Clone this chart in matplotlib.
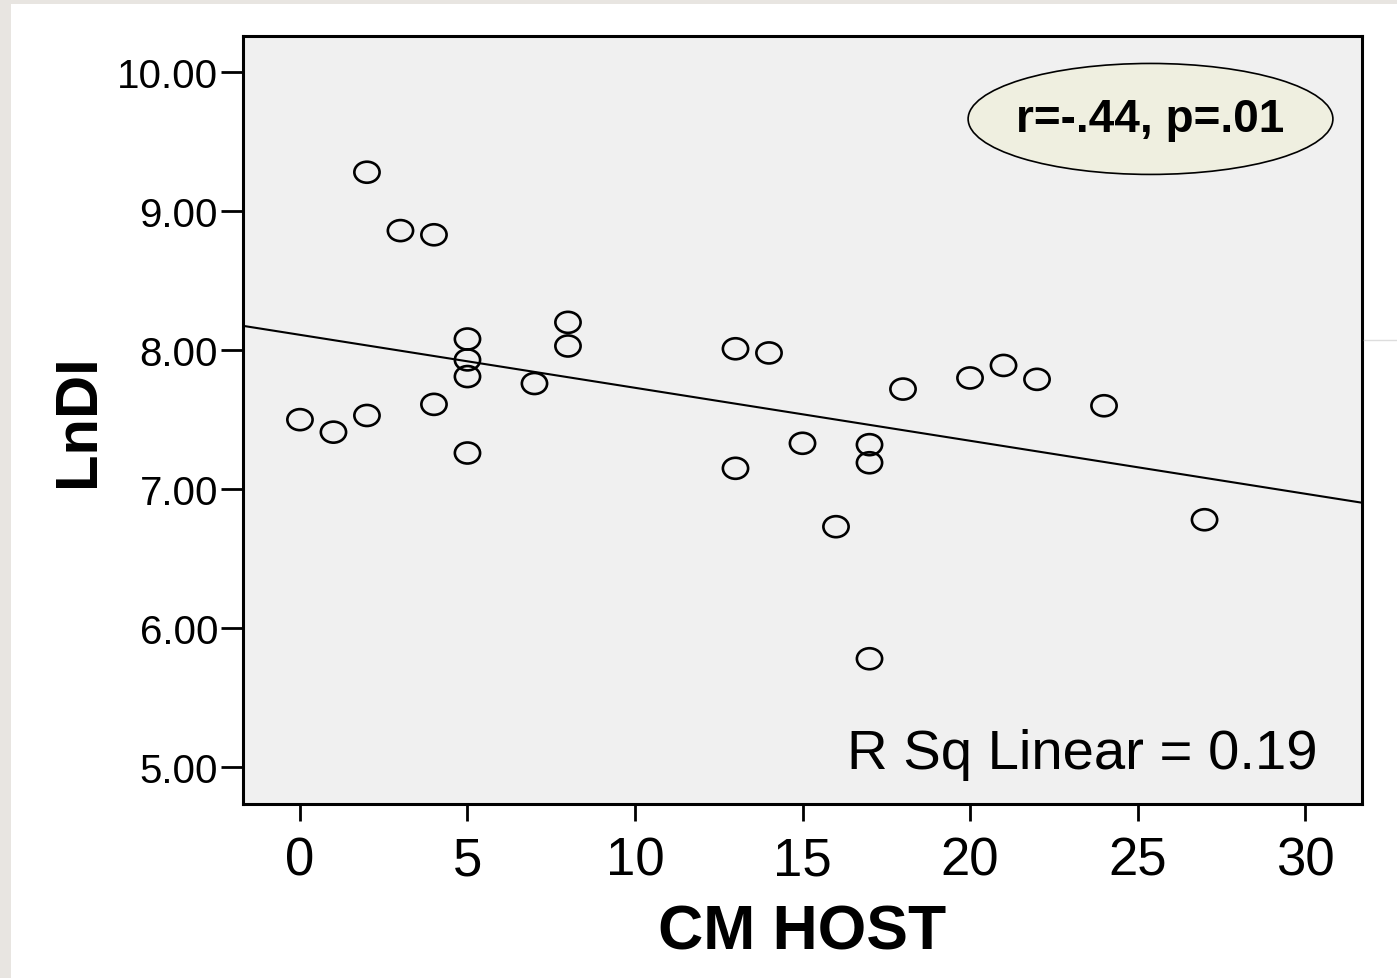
import matplotlib
matplotlib.use("Agg")
import matplotlib.pyplot as plt
from matplotlib.patches import Ellipse, Rectangle
from matplotlib.path import Path
from matplotlib.transforms import Affine2D
import numpy as np

plt.rcParams['font.family'] = ['Liberation Sans', 'DejaVu Sans']

cm_host = np.array([0, 1, 2, 2, 3, 4, 4, 5, 5, 5, 5, 7, 8, 8, 13, 13, 14, 15, 16,
                    17, 17, 17, 18, 20, 21, 22, 24, 27])
lndi = np.array([7.50, 7.41, 7.53, 9.28, 8.86, 8.83, 7.61, 8.08, 7.93, 7.81, 7.26,
                 7.76, 8.20, 8.03, 8.01, 7.15, 7.98, 7.33, 6.73, 7.32, 7.19, 5.78,
                 7.72, 7.80, 7.89, 7.79, 7.60, 6.78])
x_ticks = [0, 5, 10, 15, 20, 25, 30]
y_ticks = [5.0, 6.0, 7.0, 8.0, 9.0, 10.0]
r_sq = 0.19
stats_text = "r=-.44, p=.01"

fig = plt.figure(figsize=(13.97, 9.79), dpi=100, facecolor='#e8e5e1')
fig.patches.append(Rectangle((11 / 1397, 0), 1, 1 - 5 / 979, transform=fig.transFigure,
                             facecolor='white', edgecolor='none', zorder=-10))
fig.lines.append(plt.Line2D([1364 / 1397, 1], [1 - 341 / 979] * 2, transform=fig.transFigure,
                            color='#dddddd', lw=1))

ax = fig.add_axes([243 / 1397, 1 - 805 / 979, 1119 / 1397, 768 / 979])
ax.set_facecolor('#f0f0f0')

# slightly wide open ellipses as markers
oval = Path.unit_circle().transformed(Affine2D().scale(1.2, 1.0))
ax.scatter(cm_host, lndi, marker=oval, s=330, facecolors='none', edgecolors='black',
           linewidths=1.9, zorder=3)

slope, intercept = np.polyfit(cm_host, lndi, 1)
xl = np.array([-1.7, 31.7])
ax.plot(xl, intercept + slope * xl, color='black', lw=1.5, zorder=2)

ax.set_xlim(-1.7, 31.7)
ax.set_ylim(4.735, 10.26)
ax.set_xticks(x_ticks)
ax.set_yticks(y_ticks)
ax.set_yticklabels([f"{v:.2f}" for v in y_ticks])
ax.tick_params(axis='x', labelsize=38, length=12, width=2, pad=11)
ax.tick_params(axis='y', labelsize=29, length=16, width=2, pad=2)
for s in ax.spines.values():
    s.set_linewidth(2.2)

ax.set_xlabel("CM HOST", fontsize=45, fontweight='bold', labelpad=12)
ax.set_ylabel("LnDI", fontsize=43, fontweight='bold', labelpad=8)

ax.text(0.96, 0.065, f"R Sq Linear = {r_sq:.2f}", transform=ax.transAxes,
        ha='right', va='center', fontsize=40.5)

ax.add_patch(Ellipse((0.811, 0.892), 0.326, 0.1445, transform=ax.transAxes,
                     facecolor='#efefe0', edgecolor='black', lw=1.2, zorder=4))
ax.text(0.811, 0.892, stats_text, transform=ax.transAxes, ha='center', va='center',
        fontsize=33, fontweight='bold', zorder=5)

fig.savefig("out.png", dpi=100, facecolor=fig.get_facecolor())
